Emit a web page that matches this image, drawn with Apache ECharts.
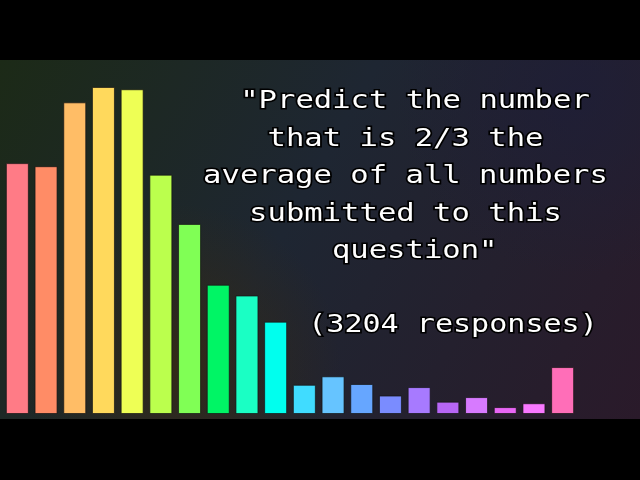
<!DOCTYPE html>
<html><head><meta charset="utf-8">
<script src="https://cdn.jsdelivr.net/npm/echarts@6/dist/echarts.min.js"></script>
<style>html,body{margin:0;padding:0;background:#000}#c{width:640px;height:480px}</style>
</head><body><div id="c"></div>
<script>
const categories = ['1','2','3','4','5','6','7','8','9','10','11','12','13','14','15','16','17','18','19','20'];
const counts = [326, 322, 405, 425, 422, 311, 247, 168, 154, 120, 38, 49, 39, 24, 35, 16, 22, 9, 14, 61];
const barColors = ['#ff7b86','#ff8c66','#ffbd66','#ffd95c','#eeff55','#bbff4d','#80ff55','#00f565','#1affc4','#00ffee',
                   '#40dcff','#66c4ff','#66a6ff','#7a8cff','#a77aff','#b766f5','#d77aff','#e866f5','#f878ff','#ff6eb8'];
const questionLines = ['"Predict the number','that is 2/3 the','average of all numbers','submitted to this','question"'];
const responsesText = '(3204 responses)';

const chart = echarts.init(document.getElementById('c'), null, {renderer:'canvas'});
const lineX = [415, 405.5, 405.5, 405.5, 414.7];
const lineY = [101.5, 139, 176.5, 214, 251.5];
const fontSize = 25;
const sx = 18.4 / (fontSize * 0.602);
const textEls = questionLines.map((t, i) => ({
  type: 'text', z: 100, x: lineX[i], y: lineY[i], scaleX: sx,
  style: { text: t, fill: '#fff', font: 'normal ' + fontSize + 'px "DejaVu Sans Mono"',
           textAlign: 'center', textVerticalAlign: 'middle', stroke: '#000', lineWidth: 3 }
}));
textEls.push({
  type: 'text', z: 100, x: 453, y: 325.5, scaleX: 18.1 / (fontSize * 0.602),
  style: { text: responsesText, fill: '#fff', font: 'normal ' + fontSize + 'px "DejaVu Sans Mono"',
           textAlign: 'center', textVerticalAlign: 'middle', stroke: '#000', lineWidth: 3 }
});

const option = {
  backgroundColor: '#000',
  animation: false,
  grid: { left: 3, right: 63, top: 60, bottom: 66 },
  xAxis: { type: 'category', data: categories, show: false },
  yAxis: { type: 'value', min: 0, max: 460, show: false },
  graphic: [
    { type: 'rect', z: -10, shape: { x: 0, y: 60, width: 640, height: 359 },
      style: { fill: new echarts.graphic.LinearGradient(0, 0, 1, 1, [
        { offset: 0, color: '#1c2a17' }, { offset: 0.45, color: '#1e2632' }, { offset: 1, color: '#2a1a2a' }]) } },
    { type: 'rect', z: -9, shape: { x: 0, y: 60, width: 640, height: 359 },
      style: { fill: new echarts.graphic.RadialGradient(0.28, 0.85, 0.45, [
        { offset: 0, color: 'rgba(52,42,22,0.95)' }, { offset: 1, color: 'rgba(52,42,22,0)' }]) } },
    { type: 'rect', z: -9, shape: { x: 0, y: 60, width: 640, height: 359 },
      style: { fill: new echarts.graphic.RadialGradient(0.9, 0.1, 0.5, [
        { offset: 0, color: 'rgba(30,30,55,0.8)' }, { offset: 1, color: 'rgba(30,30,55,0)' }]) } },
    ...textEls
  ],
  series: [{
    type: 'bar', barWidth: 23,
    data: counts.map((v, i) => ({ value: v, itemStyle: { color: barColors[i] } })),
    itemStyle: { borderColor: 'rgba(20,20,20,0.7)', borderWidth: 1 }
  }]
};
chart.setOption(option);
</script></body></html>
